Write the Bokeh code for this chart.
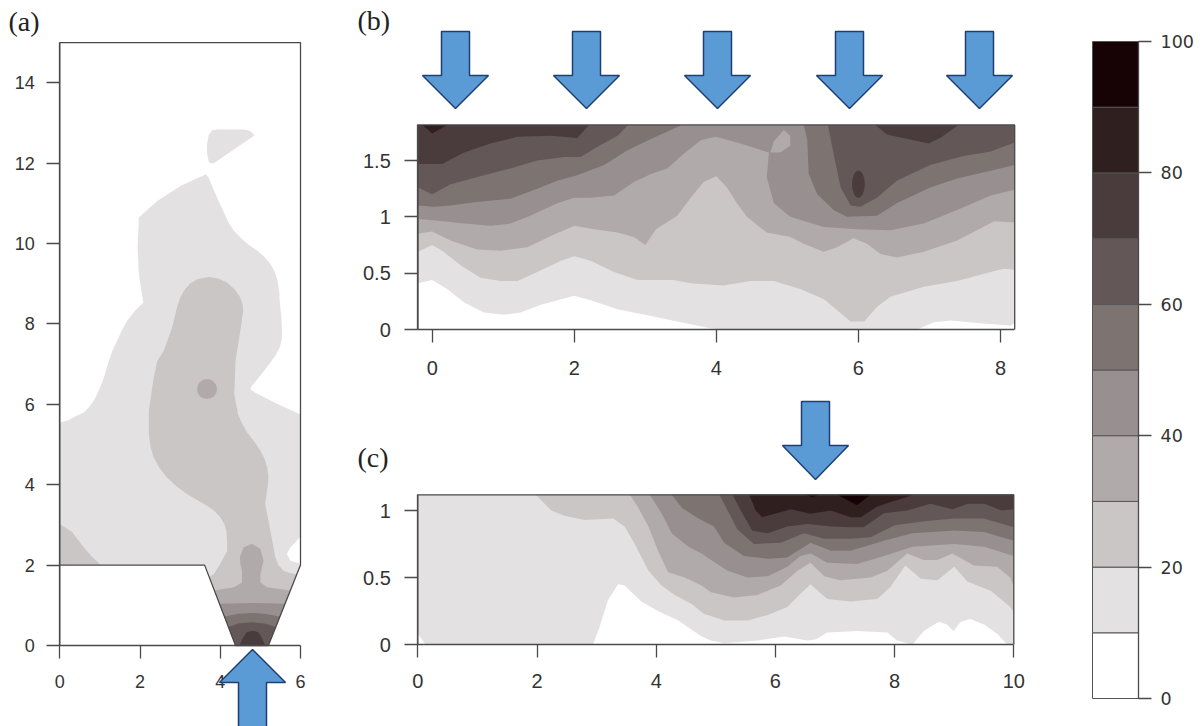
from bokeh.plotting import figure
from bokeh.models import Range1d, LinearAxis, FixedTicker
from bokeh.core.properties import value
from bokeh.embed import file_html
from bokeh.resources import INLINE

LEVEL_COLORS = ["#ffffff", "#e3e1e2", "#cac6c6", "#b1aaaa", "#989090",
                "#7d7371", "#635857", "#4a3c3c", "#2f1f1f", "#170205"]
LEVEL_STEPS = [0, 10, 20, 30, 40, 50, 60, 70, 80, 90, 100]
LEGEND_TICKS = [0, 20, 40, 60, 80, 100]

A_TICKS_X = [0, 2, 4, 6]
A_TICKS_Y = [0, 2, 4, 6, 8, 10, 12, 14]
B_TICKS_X = [0, 2, 4, 6, 8]
B_TICKS_Y = [0, 0.5, 1, 1.5]
C_TICKS_X = [0, 2, 4, 6, 8, 10]
C_TICKS_Y = [0, 0.5, 1]

A_OUTLINE = [(0, 0), (0, 15), (6, 15), (6, 2), (5.2, 0), (4.38, 0), (3.61, 2), (0, 2)]
A_L1_MAIN = [(0, 2), (0, 5.55), (.2, 5.6), (.43, 5.72), (.6, 5.8), (.72, 5.92), (.84, 6.08), (.93, 6.26), (1.03, 6.48), (1.10, 6.67),
             (1.22, 7.08), (1.31, 7.33), (1.43, 7.58), (1.55, 7.85), (1.68, 8.08), (1.87, 8.33), (2.08, 8.53), (2.03, 8.85), (1.97, 9.24),
             (1.94, 9.90), (1.97, 10.65), (2.43, 11.06), (3.01, 11.43), (3.59, 11.7), (3.65, 11.72), (3.71, 11.64), (3.92, 11.14), (4.21, 10.52),
             (4.33, 10.33), (4.50, 10.15), (4.70, 9.98), (4.92, 9.82), (5.10, 9.67), (5.25, 9.49), (5.36, 9.29), (5.43, 9.07), (5.47, 8.8),
             (5.48, 8.57), (5.52, 8.2), (5.54, 7.83), (5.53, 7.6), (5.48, 7.41), (5.38, 7.22), (5.25, 7.04), (5.0, 6.72), (4.78, 6.45), (4.75, 6.38),
             (4.82, 6.32), (5.4, 6.02), (6, 5.75), (6, 2.72), (5.9, 2.6), (5.75, 2.44), (5.66, 2.28), (5.75, 2.11), (5.95, 2.05), (6, 2),
             (5.2, 0), (4.38, 0), (3.61, 2)]
A_L1_TOP = [(3.75, 12.0), (3.71, 12.05), (3.67, 12.25), (3.67, 12.47), (3.71, 12.7), (3.8, 12.82), (3.92, 12.84), (4.58, 12.84), (4.75, 12.8),
            (4.85, 12.69), (4.34, 12.34), (3.84, 12.0)]
A_L2_MAIN = [(4.17, 2.61), (4.15, 2.86), (4.1, 3.02), (4.0, 3.19), (3.86, 3.34), (3.67, 3.48), (3.42, 3.62), (3.17, 3.77), (2.9, 3.97), (2.67, 4.18),
             (2.48, 4.42), (2.34, 4.68), (2.26, 4.95), (2.22, 5.26), (2.22, 5.84), (2.34, 6.67), (2.43, 7.08), (2.59, 7.33), (2.80, 7.91), (2.92, 8.41),
             (3.0, 8.65), (3.09, 8.82), (3.24, 9.0), (3.42, 9.11), (3.71, 9.17), (3.95, 9.13), (4.17, 9.03), (4.36, 8.86), (4.50, 8.66), (4.56, 8.48),
             (4.57, 8.33), (4.52, 7.95), (4.46, 7.58), (4.38, 7.08), (4.35, 6.26), (4.44, 5.76), (4.54, 5.53), (4.67, 5.30), (4.85, 5.07), (5.0, 4.85),
             (5.1, 4.65), (5.17, 4.43), (5.2, 4.2), (5.19, 4.02), (5.15, 3.75), (5.12, 3.52), (5.25, 2.86), (5.37, 2.20), (5.45, 2.0), (5.58, 1.86),
             (5.75, 1.8), (5.9, 1.78), (5.2, 0), (4.38, 0), (3.72, 1.7), (3.84, 1.78), (4.0, 2.03), (4.17, 2.36)]
A_L2_CORNER = [(0, 2), (0, 3.02), (.31, 2.82), (.6, 2.44), (.81, 2.2), (1.01, 2.01)]
A_L3_DOT = (3.67, 6.38)
A_L3_MAIN = [(3.85, 1.37), (4.34, 1.45), (4.54, 1.57), (4.54, 1.86), (4.50, 2.03), (4.49, 2.20), (4.58, 2.44), (4.79, 2.53),
             (5.0, 2.40), (5.08, 2.11), (5.0, 1.78), (5.0, 1.57), (5.17, 1.45), (5.75, 1.37), (5.2, 0), (4.38, 0)]
A_L4 = [(3.98, 1.04), (4.8, 1.06), (5.62, 1.04), (5.2, 0), (4.38, 0)]
A_L5 = [(4.1, .72), (4.45, .79), (4.79, .81), (5.1, .79), (5.48, .72), (5.2, 0), (4.38, 0)]
A_L6 = [(4.2, .46), (4.45, .55), (4.79, .58), (5.1, .55), (5.38, .46), (5.2, 0), (4.38, 0)]
A_L7 = [(4.48, 0), (4.54, .15), (4.66, .33), (4.8, .37), (4.95, .33), (5.05, .17), (5.12, 0)]

B_XMIN, B_XMAX, B_TOP = -0.2, 8.2, 1.816
B_L1 = [(-.2, .41), (0, .44), (.21, .36), (.45, .24), (.73, .15), (1.01, .13), (1.24, .15), (1.53, .22), (2.0, .30), (2.23, .26),
        (2.61, .18), (3.08, .12), (3.45, .07), (3.92, .01), (4.1, 0), (6.83, 0), (7.06, .065), (7.30, .08), (7.72, .056), (8.14, .036), (8.2, .056)]
B_L2 = [(-.2, .69), (0, .75), (.16, .69), (.40, .57), (.68, .46), (.96, .43), (1.20, .43), (1.48, .51), (1.81, .61), (2.0, .65),
        (2.23, .61), (2.56, .51), (2.89, .44), (3.40, .44), (3.63, .41), (4.10, .39), (4.48, .43), (4.81, .43), (5.18, .36),
        (5.51, .27), (5.70, .17), (5.89, .07), (6.08, .07), (6.26, .20), (6.45, .29), (6.92, .38), (7.39, .43), (7.86, .51), (8.05, .54), (8.2, .53)]
B_L3 = [(-.2, .85), (0, .87), (.26, .79), (.63, .71), (.96, .70), (1.34, .73), (1.67, .83), (2.0, .92), (2.28, .89), (2.61, .86),
        (2.84, .82), (3.0, .75), (3.15, .89), (3.45, 1.01), (3.64, 1.17), (3.82, 1.31), (4.0, 1.36), (4.15, 1.26), (4.29, 1.12),
        (4.43, 1.0), (4.71, .86), (5.04, .82), (5.23, .76), (5.51, .69), (5.70, .73), (5.93, .81), (6.12, .76), (6.31, .67),
        (6.54, .64), (6.92, .69), (7.39, .79), (7.67, .88), (7.91, .96), (8.2, .95)]
B_L4 = [(-.2, .98), (.16, .96), (.45, .94), (.82, .92), (1.10, .94), (1.38, 1.01), (1.76, 1.12), (2.0, 1.17), (2.23, 1.17), (2.56, 1.19),
        (2.84, 1.31), (3.08, 1.38), (3.31, 1.43), (3.54, 1.56), (3.78, 1.68), (3.99, 1.71), (4.34, 1.65), (4.74, 1.57), (4.71, 1.35),
        (4.81, 1.12), (5.04, 1.0), (5.51, .91), (5.98, .89), (6.45, .88), (6.92, .94), (7.39, 1.06), (7.86, 1.19), (8.2, 1.24)]
B_L3_BLOB = [(4.76, 1.57), (4.81, 1.67), (4.95, 1.77), (5.04, 1.72), (5.04, 1.63), (4.90, 1.57)]
B_L5_LEFT = [(-.2, 1.10), (.02, 1.09), (.26, 1.10), (.59, 1.13), (1.10, 1.16), (1.48, 1.25), (1.76, 1.32), (2.04, 1.37), (2.42, 1.46),
             (2.75, 1.59), (3.08, 1.69), (3.50, 1.81)]
B_L5_RIGHT = [(5.23, 1.816), (5.28, 1.68), (5.30, 1.38), (5.42, 1.20), (5.65, 1.06), (5.84, 1.0), (6.26, 1.01), (6.54, 1.12), (7.01, 1.26),
              (7.39, 1.34), (7.86, 1.41), (8.2, 1.46)]
B_L6_LEFT = [(-.2, 1.26), (0, 1.20), (.26, 1.29), (.73, 1.37), (1.10, 1.43), (1.48, 1.50), (1.86, 1.53), (2.09, 1.53), (2.32, 1.62), (2.61, 1.72), (2.75, 1.81)]
B_L6_RIGHT = [(5.57, 1.816), (5.65, 1.56), (5.75, 1.26), (5.89, 1.10), (6.03, 1.09), (6.26, 1.17), (6.54, 1.32), (7.01, 1.46), (7.48, 1.54), (7.86, 1.58), (8.2, 1.66)]
B_L7_LEFT = [(-.2, 1.47), (.14, 1.47), (.45, 1.57), (.82, 1.65), (1.20, 1.71), (1.67, 1.72), (2.04, 1.70), (2.21, 1.816)]
B_L7_RIGHT = [(6.24, 1.816), (6.40, 1.73), (6.69, 1.69), (6.99, 1.65), (7.15, 1.70), (7.41, 1.816)]
B_L7_DOT = (6.0, 1.29)
B_L8 = [(-.14, 1.816), (0, 1.74), (.21, 1.816)]

C_XMIN, C_XMAX, C_TOP = 0, 10, 1.117
C_L1 = [(0, .08), (.13, 0), (2.94, 0), (3.05, .13), (3.19, .33), (3.36, .45), (3.47, .44), (3.75, .32), (4.03, .25), (4.37, .18), (4.76, .06),
        (4.92, .03), (5.14, .01), (5.70, .03), (6.15, .06), (6.54, .03), (6.68, .04), (6.87, .09), (7.37, .10), (7.88, .09), (8.04, .03),
        (8.30, 0), (8.49, .10), (8.74, .17), (8.88, .15), (8.99, .10), (9.11, .17), (9.27, .19), (9.50, .15), (9.72, .08), (9.89, 0), (10, 0)]
C_L2 = [(1.98, 1.117), (2.24, 1.0), (2.46, .96), (2.80, .93), (3.28, .94), (3.47, .88), (3.64, .75), (3.87, .55), (4.09, .44), (4.31, .37),
        (4.60, .30), (4.80, .23), (5.14, .18), (5.53, .18), (5.87, .22), (6.20, .28), (6.40, .37), (6.59, .45), (6.87, .34), (7.26, .32),
        (7.71, .34), (7.93, .43), (8.18, .59), (8.44, .49), (8.72, .48), (9.0, .58), (9.22, .47), (9.62, .40), (9.94, .28), (10, .24)]
C_L3 = [(3.56, 1.117), (3.70, 1.02), (3.87, .88), (4.03, .70), (4.20, .54), (4.48, .50), (4.76, .44), (4.92, .39), (5.31, .35), (5.70, .37),
        (6.09, .44), (6.37, .55), (6.59, .61), (6.82, .51), (7.09, .48), (7.60, .50), (7.88, .55), (8.21, .68), (8.49, .63), (8.72, .63),
        (8.97, .68), (9.33, .59), (9.72, .58), (9.94, .50), (10, .43)]
C_L4 = [(3.89, 1.117), (4.09, .98), (4.26, .83), (4.54, .73), (4.76, .68), (4.92, .63), (5.20, .55), (5.53, .50), (5.87, .51), (6.20, .58),
        (6.42, .66), (6.59, .68), (6.87, .61), (7.37, .60), (7.82, .66), (8.3, .73), (9.0, .75), (9.5, .73), (10, .66)]
C_L5 = [(4.26, 1.117), (4.43, 1.02), (4.71, .94), (4.97, .88), (5.14, .76), (5.47, .66), (5.87, .64), (6.20, .65), (6.59, .76), (6.93, .70),
        (7.26, .70), (7.82, .775), (8.3, .83), (9.0, .85), (9.5, .84), (10, .775)]
C_L6 = [(5.06, 1.117), (5.20, 1.0), (5.36, .86), (5.64, .75), (6.09, .76), (6.48, .83), (6.82, .79), (7.26, .79), (7.6, .80), (8.0, .89),
        (8.5, .92), (9.0, .94), (9.5, .94), (10, .875)]
C_L7 = [(5.28, 1.117), (5.42, 1.0), (5.61, .85), (5.87, .83), (6.20, .88), (6.54, .90), (6.93, .88), (7.26, .875), (7.48, .875), (7.82, .98),
        (8.21, 1.0), (8.60, 1.05), (8.97, 1.01), (9.23, 1.05), (9.51, 1.05), (9.79, 1.0), (10, 1.01)]
C_L8 = [(5.56, 1.117), (5.67, 1.0), (5.78, .95), (6.26, 1.01), (6.59, .975), (6.93, 1.0), (7.26, .95), (7.43, .95), (7.71, 1.03), (7.99, 1.07), (8.27, 1.11), (8.3, 1.117)]
C_L9_A = [(6.51, 1.117), (6.62, 1.10), (6.73, 1.117)]
C_L9_B = [(7.04, 1.117), (7.37, 1.04), (7.59, 1.117)]

ARROWS_DOWN_B = [455, 586, 717, 849, 979]
ARROW_DOWN_C = [815]
ARROW_UP_A = [252]

W, H = 1203, 726
p = figure(width=W, height=H, output_backend="svg", toolbar_location=None,
           x_axis_type=None, y_axis_type=None,
           x_range=Range1d(0, W), y_range=Range1d(H, 0),
           min_border=0, outline_line_color=None)
p.grid.visible = False
p.background_fill_color = "white"


def span(px0, px1, v0, v1, lo, hi):
    k = (v1 - v0) / (px1 - px0)
    return Range1d(v0 + (lo - px0) * k, v0 + (hi - px0) * k)


p.extra_x_ranges = {"ax": span(59.3, 300, 0, 6, 0, W),
                    "bx": span(431.7, 1000, 0, 8, 0, W),
                    "cx": span(417.3, 1013.3, 0, 10, 0, W),
                    "lx": span(1092, 1138, 0, 1, 0, W)}
p.extra_y_ranges = {"ay": span(645, 82.3, 0, 14, H, 0),
                    "by": span(329, 160, 0, 1.5, H, 0),
                    "cy": span(644, 510, 0, 1, H, 0),
                    "ly": span(698, 41, 0, 100, H, 0)}


def fill(points, level, panel):
    p.patch([q[0] for q in points], [q[1] for q in points], fill_color=LEVEL_COLORS[level],
            line_color=None, x_range_name=panel + "x", y_range_name=panel + "y")


def band(points, level, panel, top):
    closed = list(points) + [(points[-1][0], top), (points[0][0], top)]
    fill(closed, level, panel)


def dot(center, w, h, level, panel):
    p.ellipse([center[0]], [center[1]], width=w, height=h, fill_color=LEVEL_COLORS[level], line_color=None,
              x_range_name=panel + "x", y_range_name=panel + "y")


for pts, lev in [(A_L1_MAIN, 1), (A_L1_TOP, 1), (A_L2_MAIN, 2), (A_L2_CORNER, 2),
                 (A_L3_MAIN, 3), (A_L4, 4), (A_L5, 5), (A_L6, 6), (A_L7, 7)]:
    fill(pts, lev, "a")
dot(A_L3_DOT, 0.5, 0.5, 3, "a")

for pts, lev in [(B_L1, 1), (B_L2, 2), (B_L3, 3), (B_L4, 4), (B_L5_LEFT, 5), (B_L5_RIGHT, 5), (B_L6_LEFT, 6),
                 (B_L6_RIGHT, 6), (B_L7_LEFT, 7), (B_L7_RIGHT, 7), (B_L8, 8)]:
    band(pts, lev, "b", B_TOP)
fill(B_L3_BLOB, 3, "b")
dot(B_L7_DOT, 0.18, 0.24, 7, "b")

for pts, lev in [(C_L1, 1), (C_L2, 2), (C_L3, 3), (C_L4, 4), (C_L5, 5), (C_L6, 6), (C_L7, 7), (C_L8, 8), (C_L9_A, 9), (C_L9_B, 9)]:
    band(pts, lev, "c", C_TOP)

# frames
LINE = "#4a4a4a"
p.line([q[0] for q in A_OUTLINE + A_OUTLINE[:1]], [q[1] for q in A_OUTLINE + A_OUTLINE[:1]], line_color=LINE, line_width=1.3,
       x_range_name="ax", y_range_name="ay")
p.line([B_XMIN, B_XMIN, B_XMAX, B_XMAX], [0, B_TOP, B_TOP, 0], line_color=LINE, line_width=1.3, x_range_name="bx", y_range_name="by")
p.line([C_XMIN, C_XMIN, C_XMAX, C_XMAX], [0, C_TOP, C_TOP, 0], line_color=LINE, line_width=1.3, x_range_name="cx", y_range_name="cy")

# colour scale
p.quad(left=[0] * 10, right=[1] * 10, bottom=LEVEL_STEPS[:-1], top=LEVEL_STEPS[1:], fill_color=LEVEL_COLORS,
       line_color="#555555", line_width=1, x_range_name="lx", y_range_name="ly")


def axis(side, rng_key, where, ticks, bounds, font="Liberation Sans", size="18px", tick=13, standoff=12):
    kw = {"x_range_name": rng_key} if side == "below" else {"y_range_name": rng_key}
    ax = LinearAxis(fixed_location=where, ticker=FixedTicker(ticks=ticks), bounds=bounds, **kw)
    ax.axis_line_color = LINE
    ax.axis_line_width = 1.3
    ax.major_tick_line_color = LINE
    ax.major_tick_line_width = 1.3
    ax.major_tick_in = 0
    ax.major_tick_out = tick
    ax.minor_tick_line_color = None
    ax.major_label_text_font = font
    ax.major_label_text_font_size = size
    ax.major_label_text_color = "#333333"
    ax.major_label_standoff = standoff
    ax.major_label_orientation = "horizontal"
    ax.major_label_overrides = {t: str(t) for t in ticks}
    p.add_layout(ax, side)


axis("left", "ay", 59.3, A_TICKS_Y, (0, 15))
axis("below", "ax", 645, A_TICKS_X, (0, 6), standoff=16)
axis("left", "by", 417.3, B_TICKS_Y, (0, B_TOP), size="20px", standoff=14)
axis("below", "bx", 329, B_TICKS_X, (B_XMIN, B_XMAX), size="20px", standoff=18)
axis("left", "cy", 417.3, C_TICKS_Y, (0, C_TOP), size="20px", standoff=14)
axis("below", "cx", 644, C_TICKS_X, (0, 10), size="20px", standoff=16)
axis("right", "ly", 1138, LEGEND_TICKS, (0, 100), font="DejaVu Sans", size="17.5px", tick=13, standoff=9)

# arrows
BLUE, NAVY = "#5b9bd5", "#1f3f73"


def arrow(xc, tip, base, tail, head=33, shaft=14):
    xs = [xc, xc + head, xc + shaft, xc + shaft, xc - shaft, xc - shaft, xc - head]
    ys = [tip, base, base, tail, tail, base, base]
    p.patch(xs, ys, fill_color=BLUE, line_color=NAVY, line_width=1.5, level="overlay")


for xc in ARROWS_DOWN_B:
    arrow(xc, 108, 75, 31)
for xc in ARROW_DOWN_C:
    arrow(xc, 479, 445, 401)
for xc in ARROW_UP_A:
    arrow(xc, 649, 682, 740)

p.text([8, 357, 357], [21, 20, 457], text=["(a)", "(b)", "(c)"], text_font=value("Liberation Serif"),
       text_font_size="28px", text_color="#222222", text_baseline="alphabetic", text_align="left", level="overlay")

open("out.html", "w").write(file_html(p, INLINE))
